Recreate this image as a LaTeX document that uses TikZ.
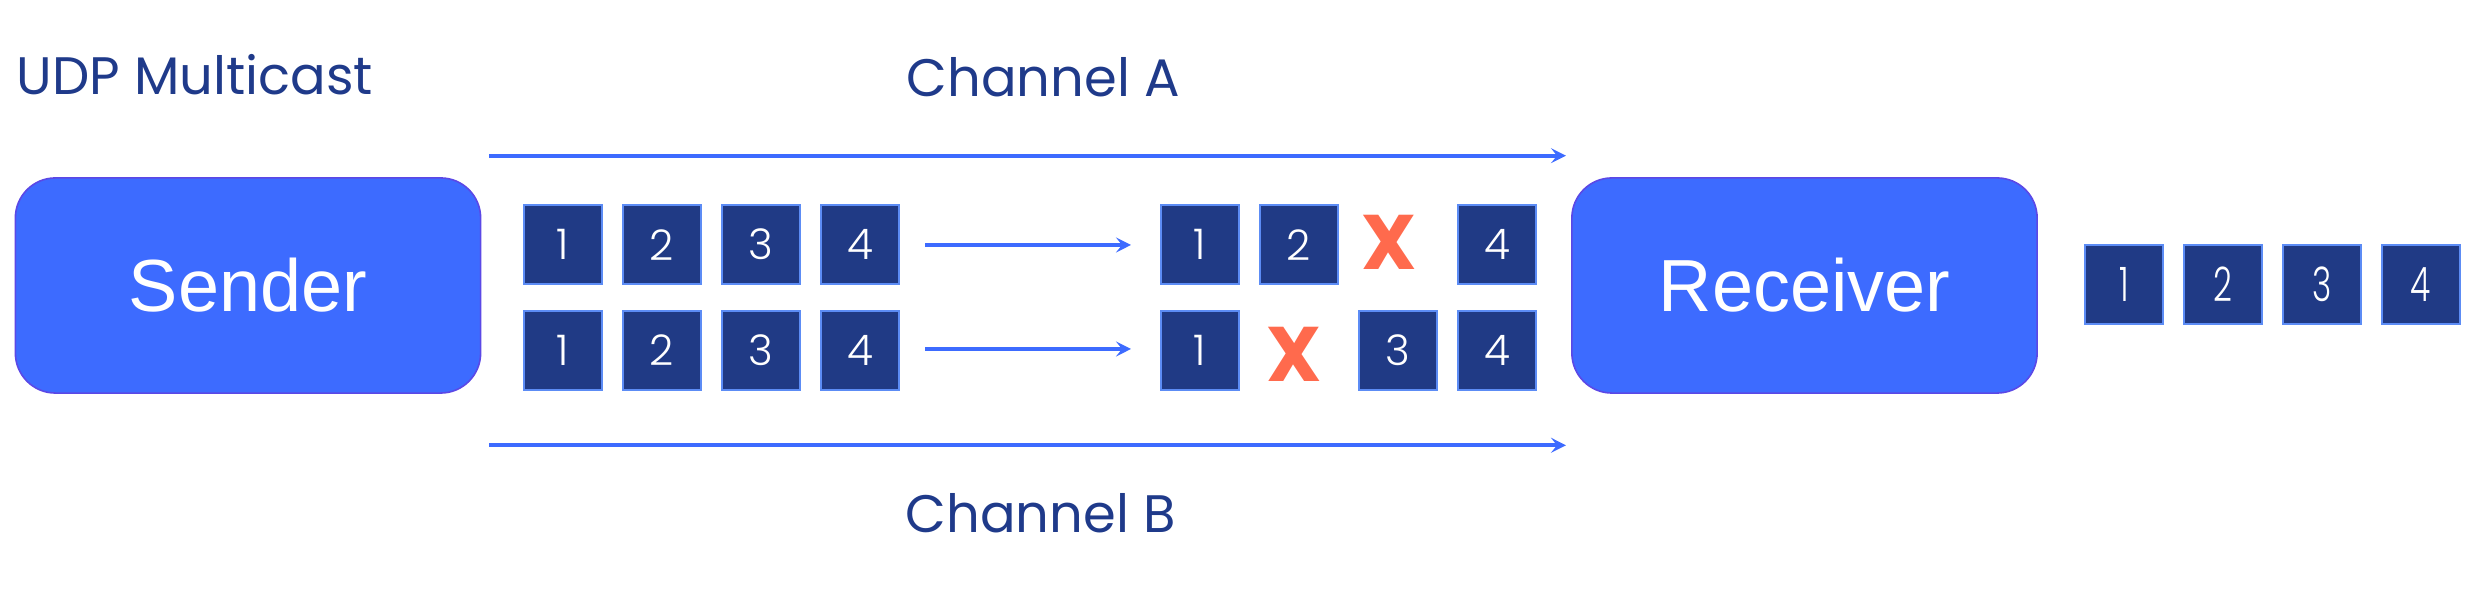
\documentclass[tikz,border=0pt]{standalone}
\usepackage{fontspec}
\setmainfont{Poppins}
\newfontfamily\boxfont{Liberation Sans}
\newfontfamily\digitfont{Poppins Light}
\usetikzlibrary{arrows.meta}
\definecolor{mainblue}{HTML}{3D6BFF}
\definecolor{boxborder}{HTML}{5B48E6}
\definecolor{pktfill}{HTML}{203A85}
\definecolor{pktborder}{HTML}{5C8CF5}
\definecolor{navytext}{HTML}{1F3A8A}
\definecolor{lossred}{HTML}{FF6A4D}
\tikzset{
  hostbox/.style={draw=boxborder, line width=0.45pt, fill=mainblue, rounded corners=0.4cm,
    minimum width=4.65cm, minimum height=2.15cm, inner sep=0pt, text=white,
    font=\boxfont\fontsize{21}{25}\selectfont},
  pkt/.style={draw=pktborder, line width=0.5pt, fill=pktfill, minimum width=0.78cm,
    minimum height=0.79cm, inner sep=0pt, text=white, font=\digitfont\fontsize{12}{14}\selectfont},
  opkt/.style={pkt, font=\digitfont\fontsize{12.5}{14}\selectfont},
  lossmark/.style={text=lossred, inner sep=0pt, font=\bfseries\fontsize{22}{26}\selectfont},
  lbl/.style={text=navytext, inner sep=0pt, anchor=base west, font=\fontsize{15}{18}\selectfont},
  flow/.style={draw=mainblue, line width=1.15pt, -{Stealth[length=0.15cm, width=0.15cm, inset=0.06cm]}}
}
\begin{document}
\begin{tikzpicture}[x=0.01cm, y=-0.01cm]
\useasboundingbox (0,0) rectangle (2480,598);
% labels
\node[lbl] (udp) at (16,95) {UDP Multicast};
\node[lbl] (cha) at (906,97) {Channel A};
\node[lbl] (chb) at (905,533) {Channel B};
% hosts
\node[hostbox] (sender) at (248,285.5) {Sender};
\node[hostbox] (receiver) at (1804.5,285.5) {Receiver};
% sent packets
\foreach \i/\x in {1/563,2/662,3/761,4/860}{
  \node[pkt] (sa\i) at (\x,244.7) {\i};
  \node[pkt] (sb\i) at (\x,350.4) {\i};
}
% received packets channel A
\node[pkt] (ra1) at (1200,244.7) {1};
\node[pkt] (ra2) at (1299,244.7) {2};
\node[lossmark] (xa) at (1389,242.5) {X};
\node[pkt] (ra4) at (1497,244.7) {4};
% received packets channel B
\node[pkt] (rb1) at (1200,350.4) {1};
\node[lossmark] (xb) at (1294,354.2) {X};
\node[pkt] (rb3) at (1398,350.4) {3};
\node[pkt] (rb4) at (1497,350.4) {4};
% output packets
\foreach \i/\x in {1/2124,2/2223,3/2322,4/2421}{
  \node[opkt] (o\i) at (\x,284.5) {\scalebox{0.75}[1.08]{\i}};
}
% channel arrows
\coordinate (a0) at (489,155.7);
\coordinate (a1) at (1566,155.7);
\coordinate (b0) at (489,445.3);
\coordinate (b1) at (1566,445.3);
\draw[flow] (a0) -- (a1);
\draw[flow] (b0) -- (b1);
\coordinate (s0) at (925,245);
\coordinate (s1) at (1131,245);
\coordinate (t0) at (925,349);
\coordinate (t1) at (1131,349);
\draw[flow] (s0) -- (s1);
\draw[flow] (t0) -- (t1);
\end{tikzpicture}
\end{document}
